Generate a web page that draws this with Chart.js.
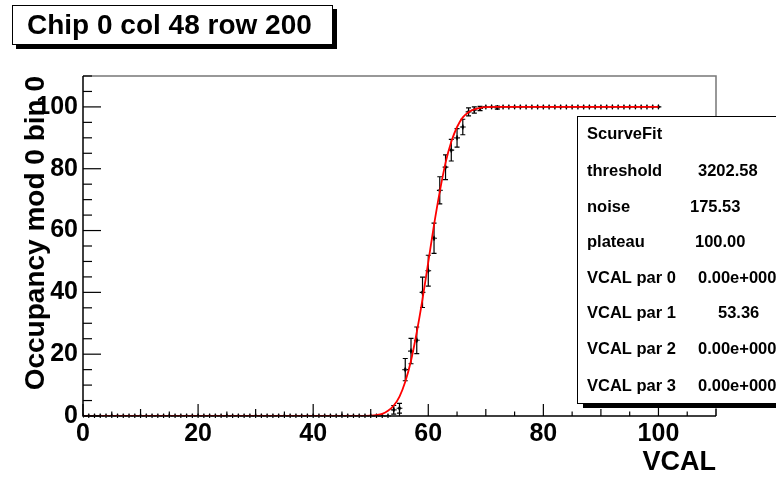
<!DOCTYPE html>
<html><head><meta charset="utf-8">
<script src="https://cdn.jsdelivr.net/npm/chart.js@4/dist/chart.umd.min.js"></script>
<style>html,body{margin:0;padding:0;background:#fff;}#wrap{width:776px;height:477px;position:relative;}</style>
</head><body><div id="wrap"><canvas id="c" width="776" height="477"></canvas></div>
<script>
const titleText = 'Chip 0 col 48 row 200';
const xTitle = 'VCAL';
const yTitle = 'Occupancy mod 0 bin 0';
const vcal = [0,1,2,3,4,5,6,7,8,9,10,11,12,13,14,15,16,17,18,19,20,21,22,23,24,25,26,27,28,29,30,31,32,33,34,35,36,37,38,39,40,41,42,43,44,45,46,47,48,49,50,51,52,53,54,55,56,57,58,59,60,61,62,63,64,65,66,67,68,69,70,71,72,73,74,75,76,77,78,79,80,81,82,83,84,85,86,87,88,89,90,91,92,93,94,95,96,97,98,99,100];
const occupancy = [
  0,0,0,0,0,0,0,0,0,0,
  0,0,0,0,0,0,0,0,0,0,
  0,0,0,0,0,0,0,0,0,0,
  0,0,0,0,0,0,0,0,0,0,
  0,0,0,0,0,0,0,0,0,0,
  0,0,0,0,2,2.5,15,21,24.5,40,
  47,57.5,73,80.5,86,90,93.5,98.4,99,99.5,
  100,100,99.8,100,100,100,100,100,100,100,
  100,100,100,100,100,100,100,100,100,100,
  100,100,100,100,100,100,100,100,100,100,
  100];
const occErr = [
  0,0,0,0,0,0,0,0,0,0,
  0,0,0,0,0,0,0,0,0,0,
  0,0,0,0,0,0,0,0,0,0,
  0,0,0,0,0,0,0,0,0,0,
  0,0,0,0,0,0,0,0,0,0,
  0,0,0,0,1.4,1.6,3.6,4.1,4.3,4.9,
  5,4.9,4.4,4,3.5,3,2.5,1.3,1,0.7,
  0,0,0.5,0,0,0,0,0,0,0,
  0,0,0,0,0,0,0,0,0,0,
  0,0,0,0,0,0,0,0,0,0,
  0];
const fitX = [0,48,50,51,52,53,54,55,56,57,58,59,60,61,62,63,64,65,66,67,68,69,70,72,100];
const fitY = [0,0,0.1,0.3,0.7,1.7,3.4,6.3,11.1,17.9,27.1,37.8,49.8,61.8,72.6,81.9,88.7,93.5,96.6,98.3,99.2,99.7,99.9,100,100];
const statsLabels = ['ScurveFit','threshold','noise','plateau','VCAL par 0','VCAL par 1','VCAL par 2','VCAL par 3'];
const statsValues = ['','3202.58','175.53','100.00','0.00e+000','53.36','0.00e+000','0.00e+000'];
const statsValueX = [0,698,690,695,698,718,698,698];

const FONT = 'Liberation Sans, Arial, Helvetica, sans-serif';

const rootPlugin = {
  id: 'rootStyle',
  beforeDatasetsDraw(chart) {
    const ctx = chart.ctx, xs = chart.scales.x, ys = chart.scales.y;
    const unit = xs.getPixelForValue(1) - xs.getPixelForValue(0);
    ctx.save();
    ctx.beginPath();
    ctx.rect(chart.chartArea.left, chart.chartArea.top - 2, chart.chartArea.width, chart.chartArea.height + 4);
    ctx.clip();
    ctx.strokeStyle = '#000';
    ctx.lineWidth = 1.2;
    for (let i = 0; i < vcal.length; i++) {
      const px = xs.getPixelForValue(vcal[i]);
      const py = ys.getPixelForValue(occupancy[i]);
      const gap = 1.5;
      ctx.beginPath();
      ctx.moveTo(px - unit / 2, py); ctx.lineTo(px - gap, py);
      ctx.moveTo(px + gap, py); ctx.lineTo(px + unit / 2, py);
      ctx.stroke();
      ctx.beginPath();
      ctx.moveTo(px, py - 2.5); ctx.lineTo(px, py + 2.5);
      ctx.stroke();
      if (occErr[i] > 0) {
        const top = ys.getPixelForValue(occupancy[i] + occErr[i]);
        const bot = ys.getPixelForValue(occupancy[i] - occErr[i]);
        ctx.beginPath();
        ctx.moveTo(px, top); ctx.lineTo(px, bot);
        ctx.moveTo(px - 2.5, top); ctx.lineTo(px + 2.5, top);
        ctx.moveTo(px - 2.5, bot); ctx.lineTo(px + 2.5, bot);
        ctx.stroke();
      }
    }
    ctx.restore();
  },
  afterDraw(chart) {
    const ctx = chart.ctx, xs = chart.scales.x, ys = chart.scales.y;
    const a = chart.chartArea;
    ctx.save();
    ctx.lineWidth = 1.5;
    ctx.strokeStyle = '#777';
    ctx.beginPath();
    ctx.moveTo(a.left, a.top); ctx.lineTo(a.right, a.top); ctx.lineTo(a.right, a.bottom);
    ctx.stroke();
    ctx.strokeStyle = '#000';
    ctx.beginPath();
    ctx.moveTo(a.left, a.top); ctx.lineTo(a.left, a.bottom); ctx.lineTo(a.right, a.bottom);
    ctx.stroke();
    ctx.lineWidth = 1.2;
    for (let v = 0; v <= 110; v += 5) {
      const px = xs.getPixelForValue(v);
      const len = v % 20 === 0 ? 12 : (v % 10 === 0 ? 7 : 4.5);
      ctx.beginPath(); ctx.moveTo(px, a.bottom); ctx.lineTo(px, a.bottom - len); ctx.stroke();
      const py = ys.getPixelForValue(v);
      const ly = v % 20 === 0 ? 18 : 9;
      ctx.beginPath(); ctx.moveTo(a.left, py); ctx.lineTo(a.left + ly, py); ctx.stroke();
    }
    const bx = 577, by = 116, bw = 230, bh = 287;
    ctx.fillStyle = '#000';
    ctx.fillRect(bx + 6, by + bh, bw, 5);
    ctx.fillStyle = '#fff';
    ctx.fillRect(bx, by, bw, bh);
    ctx.strokeStyle = '#000';
    ctx.lineWidth = 1;
    ctx.strokeRect(bx + 0.5, by + 0.5, bw, bh);
    ctx.fillStyle = '#000';
    ctx.font = 'bold 16.5px ' + FONT;
    ctx.textBaseline = 'middle';
    ctx.textAlign = 'left';
    const rowY = [134, 171, 207.5, 242, 278, 313.5, 349.5, 386];
    for (let i = 0; i < statsLabels.length; i++) {
      ctx.fillText(statsLabels[i], 587, rowY[i]);
      if (statsValues[i]) ctx.fillText(statsValues[i], statsValueX[i], rowY[i]);
    }
    ctx.fillStyle = '#000';
    ctx.fillRect(16, 9, 321, 40);
    ctx.fillStyle = '#fff';
    ctx.fillRect(12, 5, 321, 40);
    ctx.strokeStyle = '#000';
    ctx.lineWidth = 1;
    ctx.strokeRect(12.5, 5.5, 320, 39);
    ctx.fillStyle = '#000';
    ctx.font = 'bold 28px ' + FONT;
    ctx.textBaseline = 'alphabetic';
    ctx.fillText(titleText, 27, 34);
    ctx.restore();
  }
};

new Chart(document.getElementById('c'), {
  type: 'scatter',
  data: {
    datasets: [
      {
        type: 'line',
        label: 'fit',
        data: fitX.map((x, i) => ({x, y: fitY[i]})),
        borderColor: '#ff0000',
        borderWidth: 1.8,
        pointRadius: 0,
        cubicInterpolationMode: 'monotone',
        fill: false,
        order: 0
      },
      {
        label: 'data',
        data: vcal.map((x, i) => ({x, y: occupancy[i]})),
        backgroundColor: '#000',
        borderColor: '#000',
        pointRadius: 1.3,
        pointStyle: 'rect',
        showLine: false,
        order: 1
      }
    ]
  },
  options: {
    responsive: false,
    animation: false,
    devicePixelRatio: 1,
    layout: { padding: { left: 0, top: 76, right: 60, bottom: 0 } },
    plugins: { legend: { display: false }, tooltip: { enabled: false }, title: { display: false } },
    scales: {
      x: {
        type: 'linear', position: 'bottom', min: 0, max: 110,
        afterFit(s) { s.height = 61; },
        grid: { display: false, drawTicks: false },
        border: { display: false },
        ticks: { stepSize: 20, includeBounds: false, autoSkip: false, maxRotation: 0,
          color: '#000', padding: 3, font: { family: FONT, weight: 'bold', size: 25 } },
        title: { display: true, text: xTitle, align: 'end', color: '#000',
          font: { family: FONT, weight: 'bold', size: 27, lineHeight: 1 }, padding: { top: 0, bottom: 1 } }
      },
      y: {
        type: 'linear', position: 'left', min: 0, max: 110,
        afterFit(s) { s.width = 83; },
        grid: { display: false, drawTicks: false },
        border: { display: false },
        ticks: { stepSize: 20, includeBounds: false, autoSkip: false,
          color: '#000', padding: 5, font: { family: FONT, weight: 'bold', size: 25 } },
        title: { display: true, text: yTitle, align: 'end', color: '#000',
          font: { family: FONT, weight: 'bold', size: 28, lineHeight: 1 }, padding: { top: 22, bottom: 0 } }
      }
    }
  },
  plugins: [rootPlugin]
});
</script>
</body></html>
